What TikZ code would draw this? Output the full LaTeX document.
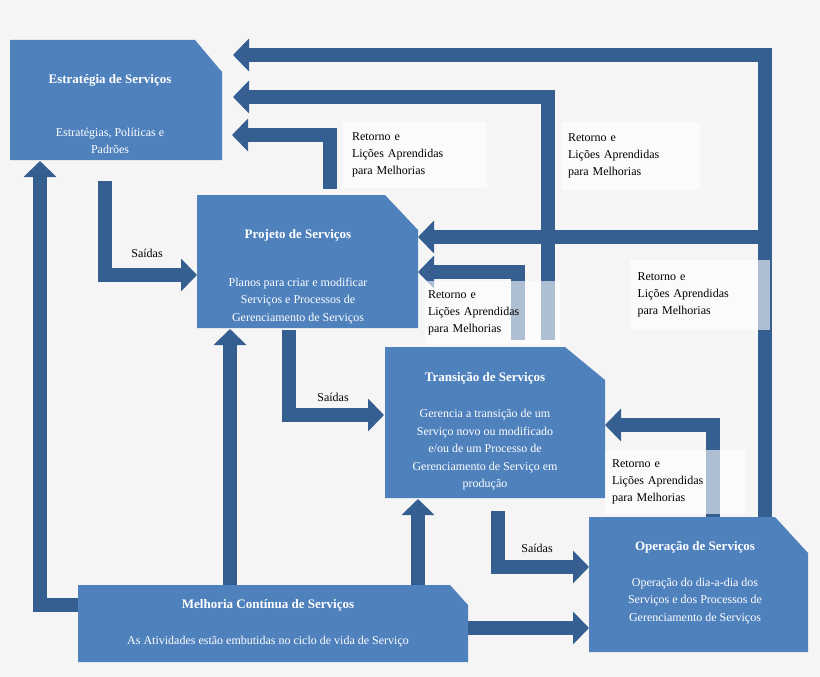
\documentclass[tikz,border=0pt]{standalone}
\usepackage{fontspec}
\setmainfont{Liberation Serif}
\usetikzlibrary{arrows.meta}
\definecolor{bg}{HTML}{F5F5F5}
\definecolor{boxc}{HTML}{4F81BD}
\definecolor{arr}{HTML}{355E91}
\begin{document}
\begin{tikzpicture}[x=1pt,y=-1pt,
  box/.style={fill=boxc},
  flow/.style={draw=arr,line width=14pt,line join=miter,line cap=butt,
    -{Triangle[width=32pt 0,length=16pt 0]}},
  ttl/.style={text=white,font=\fontsize{13}{15}\selectfont\bfseries,align=center},
  txt/.style={text=white,font=\fontsize{12}{17.5}\selectfont,align=center},
  lbl/.style={fill=white,fill opacity=0.6,text opacity=1,text=black,
    font=\fontsize{12}{17}\selectfont,align=left,inner sep=0pt},
  outl/.style={text=black,font=\fontsize{12}{14}\selectfont}]
\fill[bg] (0,0) rectangle (820,677);
\useasboundingbox (0,0) rectangle (820,677);
% boxes
\fill[box] (10,40) -- (195,40) -- (222,72) -- (222,160) -- (10,160) -- cycle;
\fill[box] (197,195) -- (385,195) -- (418,230) -- (418,328) -- (197,328) -- cycle;
\fill[box] (385,347) -- (565,347) -- (605,380) -- (605,498) -- (385,498) -- cycle;
\fill[box] (589,517) -- (775,517) -- (808,553) -- (808,652) -- (589,652) -- cycle;
\fill[box] (78,585) -- (450,585) -- (468,605) -- (468,662) -- (78,662) -- cycle;
\node[ttl] (estT) at (110,80) {Estratégia de Serviços};
\node[txt] (est) at (110,141) {Estratégias, Políticas e\\Padrões};
\node[ttl] (proT) at (298,235) {Projeto de Serviços};
\node[txt] (pro) at (298,301) {Planos para criar e modificar\\Serviços e Processos de\\Gerenciamento de Serviços};
\node[ttl] (traT) at (485,378) {Transição de Serviços};
\node[txt] (tra) at (485,450) {Gerencia a transição de um\\Serviço novo ou modificado\\e/ou de um Processo de\\Gerenciamento de Serviço em\\produção};
\node[ttl] (opeT) at (695,547) {Operação de Serviços};
\node[txt] (ope) at (695,601) {Operação do dia-a-dia dos\\Serviços e dos Processos de\\Gerenciamento de Serviços};
\node[ttl] (melT) at (268,605) {Melhoria Contínua de Serviços};
\node[txt] (mel) at (268,642) {As Atividades estão embutidas no ciclo de vida de Serviço};
% feedback arrows
\draw[flow] (765,517) -- (765,55) -- (233,55);
\draw[flow] (548,340) -- (548,97) -- (233,97);
\draw[flow] (330,189) -- (330,135) -- (232,135);
\draw[flow] (772,237) -- (418,237);
\draw[flow] (518,340) -- (518,272) -- (418,272);
\draw[flow] (713,517) -- (713,425) -- (605,425);
% outputs
\draw[flow] (105,181) -- (105,275) -- (197,275);
\draw[flow] (289,330) -- (289,415) -- (384,415);
\draw[flow] (498,511) -- (498,567) -- (589,567);
% improvement
\draw[flow] (78,605) -- (40,605) -- (40,161);
\draw[flow] (230,585) -- (230,329);
\draw[flow] (418,585) -- (418,499);
\draw[flow] (468,628) -- (589,628);
% labels
\node[lbl,minimum width=144pt,minimum height=66pt,text width=126pt] (l1) at (415,155) {Retorno e\\Lições Aprendidas\\para Melhorias};
\node[lbl,minimum width=138pt,minimum height=68pt,text width=126pt] (l2) at (631,156) {Retorno e\\Lições Aprendidas\\para Melhorias};
\node[lbl,minimum width=135pt,minimum height=64pt,text width=128pt] (l3) at (492,313) {Retorno e\\Lições Aprendidas\\para Melhorias};
\node[lbl,minimum width=140pt,minimum height=70pt,text width=125pt] (l4) at (700,295) {Retorno e\\Lições Aprendidas\\para Melhorias};
\node[lbl,minimum width=140pt,minimum height=64pt,text width=126pt] (l5) at (675,482) {Retorno e\\Lições Aprendidas\\para Melhorias};
\node[outl] (s1) at (147,253) {Saídas};
\node[outl] (s2) at (333,397) {Saídas};
\node[outl] (s3) at (537,548) {Saídas};
\end{tikzpicture}
\end{document}
